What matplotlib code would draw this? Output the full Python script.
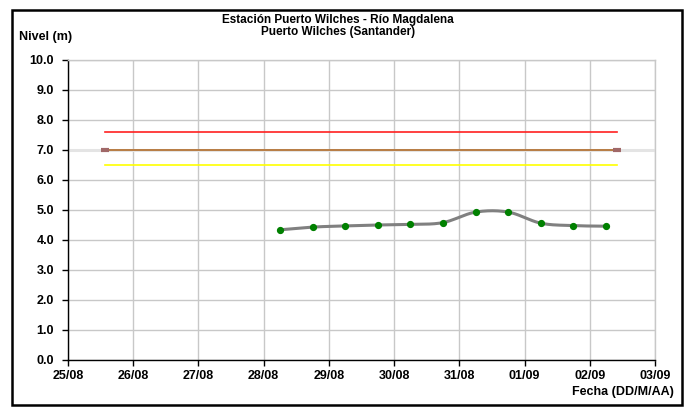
import numpy as np
import matplotlib
matplotlib.use("Agg")
import matplotlib.pyplot as plt
import matplotlib.dates as mdates
from matplotlib.patches import Rectangle
from datetime import datetime

plt.rcParams['font.family'] = ['Liberation Sans', 'DejaVu Sans']

title_1 = "Estación Puerto Wilches - Río Magdalena"
title_2 = "Puerto Wilches (Santander)"
ylabel = "Nivel (m)"
xlabel = "Fecha (DD/M/AA)"

obs_times = ["2023-08-28 06:00", "2023-08-28 18:00", "2023-08-29 06:00", "2023-08-29 18:00",
             "2023-08-30 06:00", "2023-08-30 18:00", "2023-08-31 06:00", "2023-08-31 18:00",
             "2023-09-01 06:00", "2023-09-01 18:00", "2023-09-02 06:00"]
obs_levels = [4.34, 4.43, 4.47, 4.50, 4.52, 4.58, 4.93, 4.93, 4.56, 4.48, 4.46]

thr_times = ["2023-08-25 13:30", "2023-09-02 10:00"]
thr_red = [7.6, 7.6]
thr_orange = [7.0, 7.0]
thr_yellow = [6.5, 6.5]
ref_times = ["2023-08-25 00:00", "2023-09-03 00:00"]
ref_level = [7.0, 7.0]

xlim = ["2023-08-25", "2023-09-03"]
yticks = np.arange(0, 10.01, 1.0)


def to_num(ts):
    return mdates.date2num([datetime.fromisoformat(t) for t in ts])


def catmull(x, y, n=20):
    x = np.asarray(x, float); y = np.asarray(y, float)
    px = np.concatenate([[x[0]], x, [x[-1]]])
    py = np.concatenate([[y[0]], y, [y[-1]]])
    xs, ys = [], []
    for i in range(1, len(px) - 2):
        p0, p1, p2, p3 = (px[i-1], py[i-1]), (px[i], py[i]), (px[i+1], py[i+1]), (px[i+2], py[i+2])
        c1 = (p1[0] + (p2[0] - p0[0]) / 6, p1[1] + (p2[1] - p0[1]) / 6)
        c2 = (p2[0] - (p3[0] - p1[0]) / 6, p2[1] - (p3[1] - p1[1]) / 6)
        t = np.linspace(0, 1, n)
        bx = (1-t)**3*p1[0] + 3*(1-t)**2*t*c1[0] + 3*(1-t)*t**2*c2[0] + t**3*p2[0]
        by = (1-t)**3*p1[1] + 3*(1-t)**2*t*c1[1] + 3*(1-t)*t**2*c2[1] + t**3*p2[1]
        xs.append(bx); ys.append(by)
    return np.concatenate(xs), np.concatenate(ys)


fig = plt.figure(figsize=(6.9, 4.07), dpi=100)
W, H = 690, 407
ax = fig.add_axes([68 / W, 1 - 360 / H, (655 - 68) / W, 300 / H])

fig.patches.append(Rectangle((12 / W, 2 / H), 670 / W, 395 / H, transform=fig.transFigure,
                             fill=False, edgecolor='black', linewidth=1.8))

xo = to_num(obs_times)
xt = to_num(thr_times)
xr = to_num(ref_times)

ax.plot(xr, ref_level, color='#e4e4e4', linewidth=2.2, zorder=2)
ax.plot(xt, thr_red, color='#ff2020', linewidth=1.2, zorder=3)
ax.plot(xt, thr_orange, color='#b06a28', linewidth=1.2, zorder=3,
        marker='_', markersize=6, markeredgewidth=3, markeredgecolor='#a06868')
ax.plot(xt, thr_yellow, color='#ffff00', linewidth=1.2, zorder=3)

sx, sy = catmull(xo, obs_levels)
ax.plot(sx, sy, color='#808080', linewidth=2.2, zorder=4)
ax.plot(xo, obs_levels, linestyle='none', marker='o', markersize=4.2, color='#008000', zorder=5)

ax.set_xlim(to_num(xlim))
ax.set_ylim(0, 10)
ax.set_yticks(yticks)
ax.yaxis.set_major_formatter(matplotlib.ticker.FormatStrFormatter('%.1f'))
ax.xaxis.set_major_locator(mdates.DayLocator())
ax.xaxis.set_major_formatter(mdates.DateFormatter('%d/%m'))

ax.grid(True, color='#c8c8c8', linewidth=1.0)
ax.set_axisbelow(True)
for s in ['top', 'right']:
    ax.spines[s].set_color('#c8c8c8')
    ax.spines[s].set_linewidth(1.0)
for s in ['left', 'bottom']:
    ax.spines[s].set_color('black')
    ax.spines[s].set_linewidth(1.0)
ax.tick_params(axis='both', labelsize=9, length=4, width=1, color='black')
ax.tick_params(axis='y', pad=6)
ax.tick_params(axis='x', pad=3)
for lab in ax.get_xticklabels() + ax.get_yticklabels():
    lab.set_fontweight('bold')

fig.text(338 / W, 1 - 19.5 / H, title_1, ha='center', va='center', fontsize=8.5, fontweight='bold')
fig.text(338 / W, 1 - 31.5 / H, title_2, ha='center', va='center', fontsize=8.5, fontweight='bold')
fig.text(19 / W, 1 - 37 / H, ylabel, ha='left', va='center', fontsize=9, fontweight='bold')
fig.text(674 / W, 1 - 392 / H, xlabel, ha='right', va='center', fontsize=9, fontweight='bold')

fig.savefig('out.png', dpi=100)
